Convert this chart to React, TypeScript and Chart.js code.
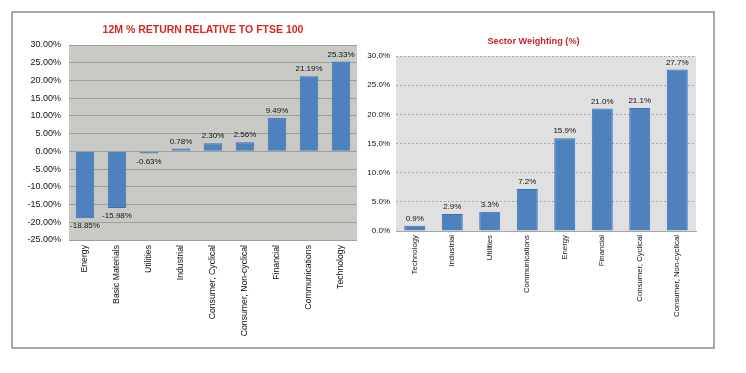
import React, { useEffect, useRef } from "react";
import { Chart, registerables } from "chart.js";

Chart.register(...registerables);

const returnTitle = "12M % RETURN RELATIVE TO FTSE 100";
const returnCategories = [
  "Energy",
  "Basic Materials",
  "Utilities",
  "Industrial",
  "Consumer, Cyclical",
  "Consumer, Non-cyclical",
  "Financial",
  "Communications",
  "Technology",
];
const returnValues = [-18.85, -15.98, -0.63, 0.78, 2.3, 2.56, 9.49, 21.19, 25.33];
const returnTickMin = -25;
const returnTickMax = 30;
const returnTickStep = 5;

const weightTitle = "Sector Weighting (%)";
const weightCategories = [
  "Technology",
  "Industrial",
  "Utilities",
  "Communications",
  "Energy",
  "Financial",
  "Consumer, Cyclical",
  "Consumer, Non-cyclical",
];
const weightValues = [0.9, 2.9, 3.3, 7.2, 15.9, 21.0, 21.1, 27.7];
const weightTickMin = 0;
const weightTickMax = 30;
const weightTickStep = 5;

const FONT = "'Liberation Sans', Arial, sans-serif";

const plotBg = {
  id: "plotBg",
  beforeDraw(chart: any, _args: any, opts: any) {
    const { ctx, chartArea } = chart;
    if (!chartArea) return;
    ctx.save();
    ctx.fillStyle = opts.color || "#ddd";
    ctx.fillRect(chartArea.left, chartArea.top, chartArea.right - chartArea.left, chartArea.bottom - chartArea.top);
    ctx.restore();
  },
};

const titleText = {
  id: "titleText",
  afterDraw(chart: any, _args: any, opts: any) {
    const ctx = chart.ctx;
    ctx.save();
    ctx.font = `bold ${opts.size}px ${FONT}`;
    ctx.fillStyle = opts.color;
    ctx.textAlign = "center";
    ctx.textBaseline = "middle";
    ctx.fillText(opts.text, opts.x, opts.y);
    ctx.restore();
  },
};

const valueLabels = {
  id: "valueLabels",
  afterDatasetsDraw(chart: any, _args: any, opts: any) {
    const ctx = chart.ctx;
    const meta = chart.getDatasetMeta(0);
    const data = chart.data.datasets[0].data as number[];
    ctx.save();
    ctx.font = `${opts.size || 8}px ${FONT}`;
    ctx.fillStyle = opts.color || "#111";
    ctx.textAlign = "center";
    meta.data.forEach((bar: any, i: number) => {
      const v = data[i];
      const txt = v.toFixed(opts.decimals) + "%";
      if (v >= 0) {
        ctx.textBaseline = "bottom";
        ctx.fillText(txt, bar.x, bar.y - 3);
      } else {
        ctx.textBaseline = "top";
        ctx.fillText(txt, bar.x, bar.y + 4);
      }
    });
    ctx.restore();
  },
};

function ReturnChart() {
  const ref = useRef<HTMLCanvasElement>(null);
  useEffect(() => {
    const chart = new Chart(ref.current!, {
      type: "bar",
      data: {
        labels: returnCategories,
        datasets: [
          {
            data: returnValues,
            backgroundColor: "#4f81bd",
            borderColor: "#2f72c4",
            borderWidth: 1,
            barPercentage: 0.58,
            categoryPercentage: 1,
          },
        ],
      },
      plugins: [plotBg, valueLabels, titleText],
      options: {
        responsive: false,
        animation: false,
        devicePixelRatio: 1,
        layout: { padding: { left: 0, right: 8, top: 32, bottom: 0 } },
        plugins: {
          legend: { display: false },
          tooltip: { enabled: false },
          title: { display: false },
          titleText: { text: returnTitle, x: 190, y: 17, size: 10.5, color: "#d7281f" },
          plotBg: { color: "#c9cac5" },
          valueLabels: { decimals: 2, size: 8, color: "#111" },
        } as any,
        scales: {
          x: {
            grid: { display: false, drawTicks: false },
            border: { display: false },
            ticks: {
              autoSkip: false,
              minRotation: 90,
              maxRotation: 90,
              padding: 5,
              color: "#111",
              font: { size: 8.7, family: FONT },
            },
            afterFit: (s: any) => {
              s.height = 107;
            },
          },
          y: {
            min: returnTickMin,
            max: returnTickMax,
            grid: { color: "#9aa299", drawTicks: false },
            border: { display: false },
            ticks: {
              stepSize: returnTickStep,
              padding: 8,
              color: "#111",
              font: { size: 9, family: FONT },
              callback: (v: any) => Number(v).toFixed(2) + "%",
            },
            afterFit: (s: any) => {
              s.width = 56;
            },
          },
        },
      } as any,
    });
    return () => chart.destroy();
  }, []);
  return (
    <canvas
      ref={ref}
      width={352}
      height={334}
      style={{ position: "absolute", left: 13, top: 13, width: 352, height: 334 }}
    />
  );
}

function WeightChart() {
  const ref = useRef<HTMLCanvasElement>(null);
  useEffect(() => {
    const chart = new Chart(ref.current!, {
      type: "bar",
      data: {
        labels: weightCategories,
        datasets: [
          {
            data: weightValues,
            backgroundColor: "#4f81bd",
            borderColor: "#2f72c4",
            borderWidth: 1,
            barPercentage: 0.56,
            categoryPercentage: 1,
          },
        ],
      },
      plugins: [plotBg, valueLabels, titleText],
      options: {
        responsive: false,
        animation: false,
        devicePixelRatio: 1,
        layout: { padding: { left: 0, right: 17, top: 43, bottom: 0 } },
        plugins: {
          legend: { display: false },
          tooltip: { enabled: false },
          title: { display: false },
          titleText: { text: weightTitle, x: 168.5, y: 28, size: 9.2, color: "#c8252c" },
          plotBg: { color: "#e0e0e0" },
          valueLabels: { decimals: 1, size: 8, color: "#111" },
        } as any,
        scales: {
          x: {
            grid: { display: false, drawTicks: false },
            border: { display: true, color: "#a6a6a6", width: 1 },
            ticks: {
              autoSkip: false,
              minRotation: 90,
              maxRotation: 90,
              padding: 4,
              color: "#111",
              font: { size: 7.8, family: FONT },
            },
            afterFit: (s: any) => {
              s.height = 116;
            },
          },
          y: {
            min: weightTickMin,
            max: weightTickMax,
            grid: { color: "#a8a8a8", drawTicks: false },
            border: { display: false, dash: [2, 2] },
            ticks: {
              stepSize: weightTickStep,
              padding: 6,
              color: "#111",
              font: { size: 8, family: FONT },
              callback: (v: any) => Number(v).toFixed(1) + "%",
            },
            afterFit: (s: any) => {
              s.width = 31;
            },
          },
        },
      } as any,
    });
    return () => chart.destroy();
  }, []);
  return (
    <canvas
      ref={ref}
      width={348}
      height={334}
      style={{ position: "absolute", left: 365, top: 13, width: 348, height: 334 }}
    />
  );
}

export default function App() {
  return (
    <div
      style={{
        position: "absolute",
        left: 0,
        top: 0,
        width: 746,
        height: 373,
        background: "#fff",
        overflow: "hidden",
      }}
    >
      <div
        style={{
          position: "absolute",
          left: 11,
          top: 11,
          width: 704,
          height: 338,
          boxSizing: "border-box",
          border: "2px solid #a8a8a8",
        }}
      />
      <ReturnChart />
      <WeightChart />
    </div>
  );
}
